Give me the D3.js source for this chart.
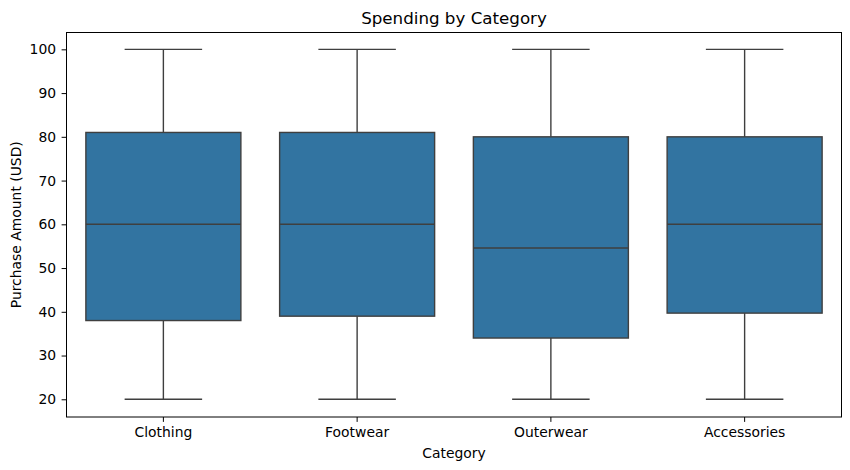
<!DOCTYPE html>
<html>
<head>
<meta charset="utf-8">
<script src="https://cdn.jsdelivr.net/npm/d3@7"></script>
<style>
  body { margin: 0; background: #fff; }
  text { font-family: "DejaVu Sans", sans-serif; fill: #000; }
</style>
</head>
<body>
<script>
var categories = ["Clothing", "Footwear", "Outerwear", "Accessories"];
var whiskerLow = [20, 20, 20, 20];
var q1 = [38, 39, 34, 39.7];
var median = [60, 60, 54.6, 60];
var q3 = [81, 81, 80, 80];
var whiskerHigh = [100, 100, 100, 100];
var yTicks = [20, 30, 40, 50, 60, 70, 80, 90, 100];

var width = 850, height = 470;
var margin = { top: 32.5, right: 8.5, bottom: 53, left: 66.5 };
var plotW = width - margin.left - margin.right,
    plotH = height - margin.top - margin.bottom;

var svg = d3.select("body")
    .append("svg")
    .attr("width", width)
    .attr("height", height);

var g = svg.append("g")
    .attr("transform", "translate(" + margin.left + "," + margin.top + ")");

var x = d3.scaleBand()
    .domain(categories)
    .range([0, plotW]);

var y = d3.scaleLinear()
    .domain([15.95, 103.85])
    .range([plotH, 0]);

var boxW = x.bandwidth() * 0.8,
    capW = boxW / 2,
    lineColor = "#3f3f3f",
    lw = 1.4;

var data = categories.map(function(c, i) {
    return { cat: c, lo: whiskerLow[i], q1: q1[i], med: median[i], q3: q3[i], hi: whiskerHigh[i] };
});

var boxes = g.selectAll(".box")
    .data(data)
    .enter()
    .append("g")
    .attr("transform", function(d) { return "translate(" + (x(d.cat) + x.bandwidth() / 2) + ",0)"; });

// whiskers
boxes.append("line")
    .attr("y1", function(d) { return y(d.hi); })
    .attr("y2", function(d) { return y(d.q3); })
    .attr("stroke", lineColor).attr("stroke-width", lw);
boxes.append("line")
    .attr("y1", function(d) { return y(d.q1); })
    .attr("y2", function(d) { return y(d.lo); })
    .attr("stroke", lineColor).attr("stroke-width", lw);

// caps
boxes.append("line")
    .attr("x1", -capW / 2).attr("x2", capW / 2)
    .attr("y1", function(d) { return y(d.hi); })
    .attr("y2", function(d) { return y(d.hi); })
    .attr("stroke", lineColor).attr("stroke-width", lw);
boxes.append("line")
    .attr("x1", -capW / 2).attr("x2", capW / 2)
    .attr("y1", function(d) { return y(d.lo); })
    .attr("y2", function(d) { return y(d.lo); })
    .attr("stroke", lineColor).attr("stroke-width", lw);

// box
boxes.append("rect")
    .attr("x", -boxW / 2)
    .attr("width", boxW)
    .attr("y", function(d) { return y(d.q3); })
    .attr("height", function(d) { return y(d.q1) - y(d.q3); })
    .attr("fill", "#3274a1")
    .attr("stroke", lineColor)
    .attr("stroke-width", lw);

// median
boxes.append("line")
    .attr("x1", -boxW / 2).attr("x2", boxW / 2)
    .attr("y1", function(d) { return y(d.med); })
    .attr("y2", function(d) { return y(d.med); })
    .attr("stroke", lineColor).attr("stroke-width", lw);

// axes
var xAxis = g.append("g")
    .attr("transform", "translate(0," + plotH + ")")
    .call(d3.axisBottom(x).tickSize(4.9).tickPadding(5.5));
var yAxis = g.append("g")
    .call(d3.axisLeft(y).tickValues(yTicks).tickSize(4.9).tickPadding(5.5));

[xAxis, yAxis].forEach(function(a) {
    a.select(".domain").remove();
    a.selectAll("text").style("font-size", "13.9px").attr("fill", "#000");
    a.selectAll("line").attr("stroke", "#000").attr("stroke-width", 1);
});

// frame
g.append("rect")
    .attr("width", plotW)
    .attr("height", plotH)
    .attr("fill", "none")
    .attr("stroke", "#000")
    .attr("stroke-width", 1);

svg.append("text")
    .attr("x", margin.left + plotW / 2)
    .attr("y", 24)
    .attr("text-anchor", "middle")
    .style("font-size", "16.7px")
    .text("Spending by Category");

svg.append("text")
    .attr("x", margin.left + plotW / 2)
    .attr("y", 458)
    .attr("text-anchor", "middle")
    .style("font-size", "13.9px")
    .text("Category");

svg.append("text")
    .attr("transform", "translate(21," + (margin.top + plotH / 2) + ") rotate(-90)")
    .attr("text-anchor", "middle")
    .style("font-size", "13.9px")
    .text("Purchase Amount (USD)");
</script>
</body>
</html>
